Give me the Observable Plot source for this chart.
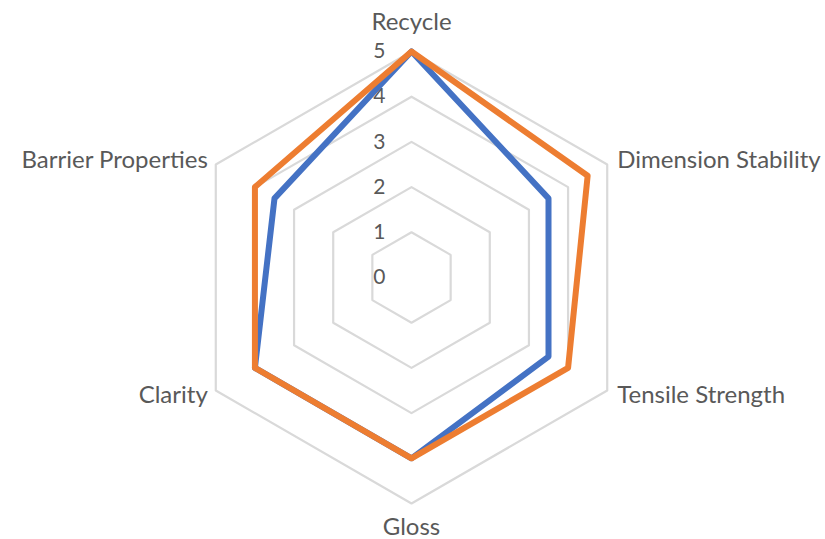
<!DOCTYPE html>
<html>
<head>
<meta charset="utf-8">
<script src="https://cdn.jsdelivr.net/npm/d3@7"></script>
<script src="https://cdn.jsdelivr.net/npm/@observablehq/plot@0.6"></script>
<style>
  html, body { margin: 0; padding: 0; background: #fff; }
</style>
</head>
<body>
<div id="chart"></div>
<script>
const categories = ["Recycle", "Dimension Stability", "Tensile Strength", "Gloss", "Clarity", "Barrier Properties"];
const seriesNames = ["Series 1", "Series 2"];
const series1 = [5, 3.5, 3.5, 4, 4, 3.5];
const series2 = [5, 4.5, 4, 4, 4, 4];
const tickValues = [0, 1, 2, 3, 4, 5];
const ringValues = [1, 2, 3, 4, 5];
const colors = ["#4472C4", "#ED7D31"];

const maxValue = 5;
const angle = (i) => (i * 2 * Math.PI) / categories.length;
const px = (r, i) => r * Math.sin(angle(i));
const py = (r, i) => r * Math.cos(angle(i));

const grid = ringValues.flatMap((r) => categories.map((c, i) => ({ring: r, i})));
const rows = [series1, series2].flatMap((vals, s) =>
  vals.map((v, i) => ({series: seriesNames[s], cat: categories[i], i, value: v}))
);
const labels = categories.map((c, i) => ({cat: c, i}));

const cx = 411, cy = 277, R = 226;
const labelSize = 24;

const chart = Plot.plot({
  width: 825,
  height: 539,
  margin: 0,
  style: {fontFamily: "Lato, 'Open Sans', sans-serif", color: "#595959", background: "#fff"},
  x: {domain: [-maxValue, maxValue], range: [cx - R, cx + R], axis: null},
  y: {domain: [-maxValue, maxValue], range: [cy + R, cy - R], axis: null},
  color: {domain: seriesNames, range: colors},
  marks: [
    Plot.line(grid, {
      x: (d) => px(d.ring, d.i), y: (d) => py(d.ring, d.i), z: "ring",
      curve: "linear-closed", stroke: "#d9d9d9", strokeWidth: 2.2
    }),
    Plot.text(tickValues, {
      x: 0, y: (d) => d, text: (d) => String(d),
      textAnchor: "end", dx: -26, fontSize: 21, fill: "#595959"
    }),
    Plot.line(rows, {
      x: (d) => px(d.value, d.i), y: (d) => py(d.value, d.i), z: "series",
      stroke: "series", curve: "linear-closed", strokeWidth: 6, strokeLinejoin: "round"
    }),
    Plot.text(labels.filter((d) => d.i === 0), {
      x: (d) => px(maxValue, d.i), y: (d) => py(maxValue, d.i), text: "cat",
      dy: -29, fontSize: labelSize, fill: "#595959"
    }),
    Plot.text(labels.filter((d) => d.i === 3), {
      x: (d) => px(maxValue, d.i), y: (d) => py(maxValue, d.i), text: "cat",
      dy: 24, fontSize: labelSize, fill: "#595959"
    }),
    Plot.text(labels.filter((d) => d.i === 1), {
      x: (d) => px(maxValue, d.i), y: (d) => py(maxValue, d.i), text: "cat",
      textAnchor: "start", dx: 10, dy: -4, fontSize: labelSize, fill: "#595959"
    }),
    Plot.text(labels.filter((d) => d.i === 2), {
      x: (d) => px(maxValue, d.i), y: (d) => py(maxValue, d.i), text: "cat",
      textAnchor: "start", dx: 10, dy: 5, fontSize: labelSize, fill: "#595959"
    }),
    Plot.text(labels.filter((d) => d.i === 4), {
      x: (d) => px(maxValue, d.i), y: (d) => py(maxValue, d.i), text: "cat",
      textAnchor: "end", dx: -8, dy: 5, fontSize: labelSize, fill: "#595959"
    }),
    Plot.text(labels.filter((d) => d.i === 5), {
      x: (d) => px(maxValue, d.i), y: (d) => py(maxValue, d.i), text: "cat",
      textAnchor: "end", dx: -8, dy: -4, fontSize: labelSize, fill: "#595959"
    })
  ]
});
document.getElementById("chart").appendChild(chart);
</script>
</body>
</html>
